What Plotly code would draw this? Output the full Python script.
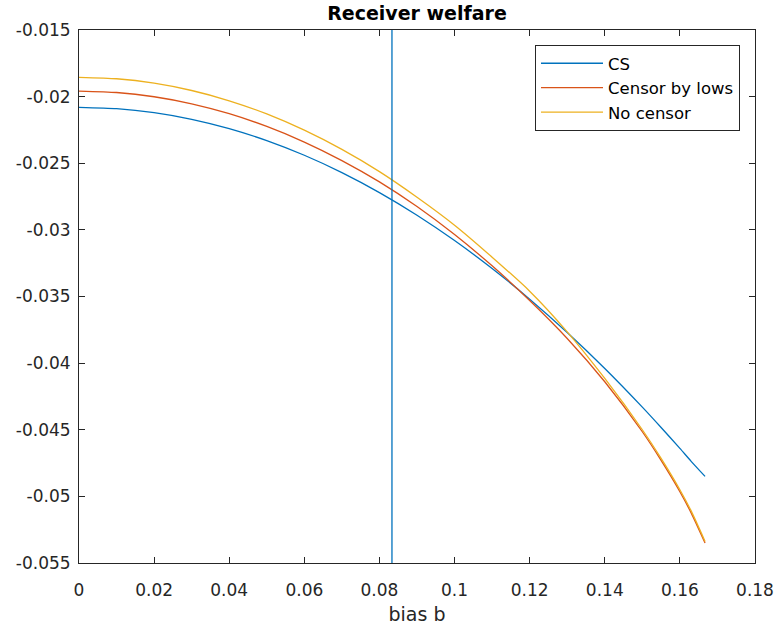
import plotly.graph_objects as go

# ---- data ----
bias = [0.0, 0.01, 0.02, 0.03, 0.04, 0.05, 0.06, 0.07, 0.08, 0.09, 0.10,
        0.11, 0.12, 0.13, 0.14, 0.15, 0.155, 0.16, 0.163, 0.1667]

cs = [-0.02080, -0.02090, -0.02120, -0.02170, -0.02240, -0.02330, -0.02440,
      -0.02570, -0.02720, -0.02890, -0.03080, -0.03290, -0.03520, -0.03770,
      -0.04040, -0.04330, -0.04483, -0.04640, -0.04737, -0.04850]

censor_lows = [-0.01958, -0.01969, -0.02001, -0.02054, -0.02128, -0.02224,
               -0.02341, -0.02480, -0.02640, -0.02825, -0.03035, -0.03270,
               -0.03530, -0.03815, -0.04140, -0.04515, -0.04730, -0.04965,
               -0.05124, -0.05350]

no_censor = [-0.01855, -0.01866, -0.01899, -0.01954, -0.02031, -0.02130,
             -0.02252, -0.02396, -0.02563, -0.02755, -0.02965, -0.03205,
             -0.03460, -0.03765, -0.04115, -0.04500, -0.04715, -0.04950,
             -0.05109, -0.05338]

vline_x = 1 / 12

x_ticks = [0, 0.02, 0.04, 0.06, 0.08, 0.1, 0.12, 0.14, 0.16, 0.18]
x_ticktext = ["0", "0.02", "0.04", "0.06", "0.08", "0.1", "0.12", "0.14", "0.16", "0.18"]
y_ticks = [-0.055, -0.05, -0.045, -0.04, -0.035, -0.03, -0.025, -0.02, -0.015]
y_ticktext = ["-0.055", "-0.05", "-0.045", "-0.04", "-0.035", "-0.03", "-0.025", "-0.02", "-0.015"]

series_names = ["CS", "Censor by lows", "No censor"]
colors = ["#0072BD", "#D95319", "#EDB120"]

W, H = 779, 629
L, R, T, B = 79, 755, 30, 563

fig = go.Figure()
for name, ys, col in zip(series_names, [cs, censor_lows, no_censor], colors):
    fig.add_trace(go.Scatter(x=bias, y=ys, mode="lines", name=name,
                             line=dict(color=col, width=1.3, shape="spline", smoothing=0.6),
                             legendgroup=name))

fig.add_trace(go.Scatter(x=[vline_x, vline_x], y=[-0.055, -0.015], mode="lines",
                         line=dict(color=colors[0], width=1.3), showlegend=False))

font_family = "DejaVu Sans, Liberation Sans, Arial, sans-serif"
axcol = "#262626"

fig.update_layout(
    width=W, height=H,
    margin=dict(l=L, r=W - R, t=T, b=H - B, pad=0, autoexpand=False),
    paper_bgcolor="white", plot_bgcolor="white",
    font=dict(family=font_family, size=17, color=axcol),
    title=dict(text="<b>Receiver welfare</b>", x=(L + R) / 2 / W, xanchor="center",
               y=1 - 13 / H, yanchor="middle", yref="container",
               font=dict(size=19, color="black"), automargin=False),
    showlegend=True,
    legend=dict(x=(740 - L) / (R - L), xanchor="right",
                y=(B - 45) / (B - T), yanchor="top",
                bgcolor="white", bordercolor=axcol, borderwidth=1,
                font=dict(size=16.5, color="black"), tracegroupgap=0,
                itemwidth=62),
)

fig.update_xaxes(range=[0, 0.18], tickvals=x_ticks, ticktext=x_ticktext,
                 automargin=False,
                 showline=True, linecolor=axcol, linewidth=1, mirror="allticks",
                 ticks="inside", ticklen=6, tickcolor=axcol, showgrid=False,
                 zeroline=False, tickfont=dict(size=17, color=axcol),
                 ticklabelstandoff=12,
                 title=dict(text="bias b", font=dict(size=19, color=axcol), standoff=8))
fig.update_yaxes(range=[-0.055, -0.015], tickvals=y_ticks, ticktext=y_ticktext,
                 automargin=False,
                 showline=True, linecolor=axcol, linewidth=1, mirror="allticks",
                 ticks="inside", ticklen=6, tickcolor=axcol, showgrid=False,
                 zeroline=False, tickfont=dict(size=17, color=axcol),
                 ticklabelstandoff=4)

fig.write_html("out.html")
